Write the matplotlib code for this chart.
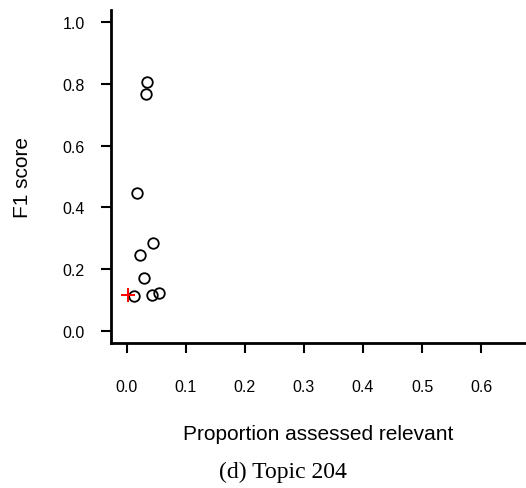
import matplotlib.pyplot as plt
import numpy as np

# runs: proportion assessed relevant vs F1
prop = [0.034, 0.032, 0.017, 0.045, 0.022, 0.030, 0.012, 0.043, 0.055]
f1 = [0.804, 0.766, 0.447, 0.284, 0.246, 0.171, 0.113, 0.117, 0.124]

# baseline point (red cross)
base_prop = [0.002]
base_f1 = [0.118]

xticks = [0.0, 0.1, 0.2, 0.3, 0.4, 0.5, 0.6]
yticks = [0.0, 0.2, 0.4, 0.6, 0.8, 1.0]

plt.rcParams['font.family'] = ['Liberation Sans', 'DejaVu Sans']

fig = plt.figure(figsize=(5.26, 4.89), dpi=100)
ax = fig.add_axes([0.211, 0.2965, 0.789, 0.6816])

ax.plot(prop, f1, linestyle='none', marker='o', markersize=7.6,
        markerfacecolor='none', markeredgecolor='black', markeredgewidth=1.3)
ax.plot(base_prop, base_f1, linestyle='none', marker='+', markersize=10,
        color='red', markeredgewidth=1.4)

ax.set_xlim(-0.0266, 0.676)
ax.set_ylim(-0.038, 1.039)

ax.set_xticks(xticks)
ax.set_xticklabels([f'{v:.1f}' for v in xticks])
ax.set_yticks(yticks)
ax.set_yticklabels([f'{v:.1f}' for v in yticks])

for s in ['top', 'right']:
    ax.spines[s].set_visible(False)
for s in ['left', 'bottom']:
    ax.spines[s].set_linewidth(2)

ax.tick_params(axis='x', length=7, width=1.5, labelsize=11.5, pad=19)
ax.tick_params(axis='y', length=7, width=1.5, labelsize=11.5, pad=12)

fig.text(318 / 526, 1 - 435 / 489, 'Proportion assessed relevant',
         ha='center', va='center', fontsize=15)
fig.text(23 / 526, 1 - 177 / 489, 'F1 score', ha='center', va='center',
         rotation=90, fontsize=15)
fig.text(283 / 526, 1 - 472 / 489, '(d) Topic 204', ha='center', va='center',
         fontsize=17, family='Liberation Serif')

fig.savefig('out.png', dpi=100)
